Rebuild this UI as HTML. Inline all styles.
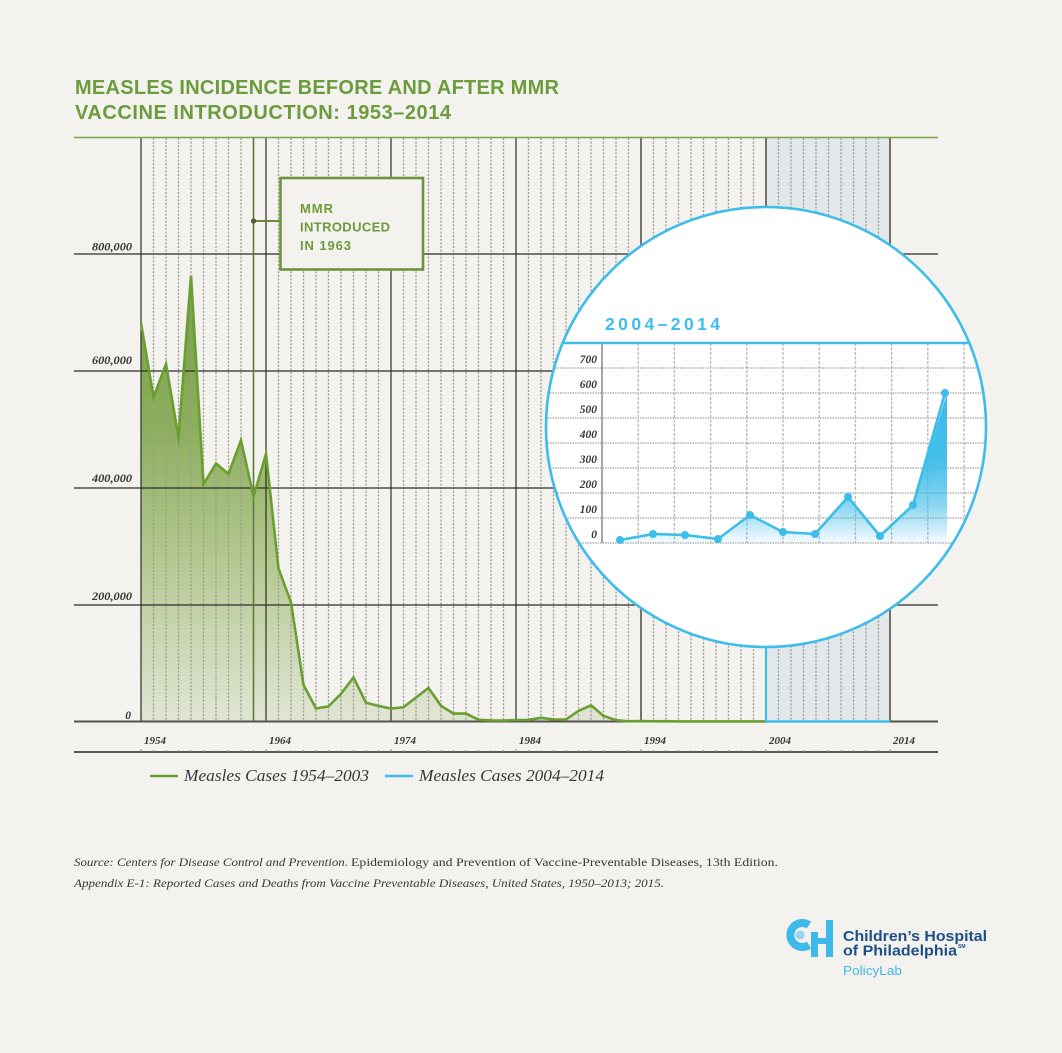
<!DOCTYPE html>
<html><head><meta charset="utf-8"><style>
html,body{margin:0;padding:0;background:#f3f2ee;}
svg{display:block;}
</style></head><body>
<svg width="1062" height="1053" viewBox="0 0 1062 1053" xmlns="http://www.w3.org/2000/svg">
<defs>
<linearGradient id="gf" gradientUnits="userSpaceOnUse" x1="0" y1="276" x2="0" y2="721">
<stop offset="0" stop-color="#72a03c"/>
<stop offset="0.35" stop-color="#8daf5e"/>
<stop offset="0.7" stop-color="#bccd9c"/>
<stop offset="1" stop-color="#e0e5d3"/>
</linearGradient>
<linearGradient id="bf" gradientUnits="userSpaceOnUse" x1="0" y1="393" x2="0" y2="543">
<stop offset="0" stop-color="#3bbbe9" stop-opacity="1"/>
<stop offset="0.45" stop-color="#3bbbe9" stop-opacity="0.95"/>
<stop offset="0.75" stop-color="#3bbbe9" stop-opacity="0.6"/>
<stop offset="1" stop-color="#3bbbe9" stop-opacity="0.05"/>
</linearGradient>
<clipPath id="cc"><circle cx="766" cy="427" r="219"/></clipPath>
</defs>
<rect width="1062" height="1053" fill="#f3f2ee"/>

<!-- Title -->
<g font-family="Liberation Sans, sans-serif" font-weight="bold" font-size="20" fill="#6b9c3c">
<text x="75" y="94" textLength="484" lengthAdjust="spacing">MEASLES INCIDENCE BEFORE AND AFTER MMR</text>
<text x="75" y="119" textLength="376" lengthAdjust="spacing">VACCINE INTRODUCTION: 1953–2014</text>
</g>

<!-- shaded 2004-2014 region -->
<rect x="766" y="138" width="124" height="583" fill="#e2e8ea"/>

<!-- green area -->
<polygon fill="url(#gf)" points="141,721.5 141,322.8 153.5,397.3 166,364.1 178.5,437.2 191,275.9 203.5,484.3 216,463.5 228.5,473.9 241,440.3 253.5,496.6 266,454.0 278.5,568.5 291,602.3 303.5,684.9 316,708.5 328.5,706.4 341,693.8 353.5,677.5 366,702.7 378.5,705.9 391,708.6 403.5,707.3 416,697.5 428.5,688.0 441,705.8 453.5,713.6 466,713.6 478.5,719.7 491,720.5 503.5,720.6 516,720.0 528.5,719.9 541,717.8 553.5,719.4 566,719.5 578.5,710.9 591,705.3 603.5,715.9 616,720.2 628.5,721.3 641,721.0 653.5,721.3 666,721.2 678.5,721.4 691,721.4 703.5,721.4 716,721.4 728.5,721.4 741,721.4 753.5,721.4 766,721.5"/>

<!-- minor dotted verticals -->
<g stroke="#9c9a96" stroke-width="1.3" stroke-dasharray="2,1.6">
<line x1="153.5" y1="138" x2="153.5" y2="721"/><line x1="166" y1="138" x2="166" y2="721"/><line x1="178.5" y1="138" x2="178.5" y2="721"/><line x1="191" y1="138" x2="191" y2="721"/><line x1="203.5" y1="138" x2="203.5" y2="721"/><line x1="216" y1="138" x2="216" y2="721"/><line x1="228.5" y1="138" x2="228.5" y2="721"/><line x1="241" y1="138" x2="241" y2="721"/>
<line x1="278.5" y1="138" x2="278.5" y2="721"/><line x1="291" y1="138" x2="291" y2="721"/><line x1="303.5" y1="138" x2="303.5" y2="721"/><line x1="316" y1="138" x2="316" y2="721"/><line x1="328.5" y1="138" x2="328.5" y2="721"/><line x1="341" y1="138" x2="341" y2="721"/><line x1="353.5" y1="138" x2="353.5" y2="721"/><line x1="366" y1="138" x2="366" y2="721"/><line x1="378.5" y1="138" x2="378.5" y2="721"/>
<line x1="403.5" y1="138" x2="403.5" y2="721"/><line x1="416" y1="138" x2="416" y2="721"/><line x1="428.5" y1="138" x2="428.5" y2="721"/><line x1="441" y1="138" x2="441" y2="721"/><line x1="453.5" y1="138" x2="453.5" y2="721"/><line x1="466" y1="138" x2="466" y2="721"/><line x1="478.5" y1="138" x2="478.5" y2="721"/><line x1="491" y1="138" x2="491" y2="721"/><line x1="503.5" y1="138" x2="503.5" y2="721"/>
<line x1="528.5" y1="138" x2="528.5" y2="721"/><line x1="541" y1="138" x2="541" y2="721"/><line x1="553.5" y1="138" x2="553.5" y2="721"/><line x1="566" y1="138" x2="566" y2="721"/><line x1="578.5" y1="138" x2="578.5" y2="721"/><line x1="591" y1="138" x2="591" y2="721"/><line x1="603.5" y1="138" x2="603.5" y2="721"/><line x1="616" y1="138" x2="616" y2="721"/><line x1="628.5" y1="138" x2="628.5" y2="721"/>
<line x1="653.5" y1="138" x2="653.5" y2="721"/><line x1="666" y1="138" x2="666" y2="721"/><line x1="678.5" y1="138" x2="678.5" y2="721"/><line x1="691" y1="138" x2="691" y2="721"/><line x1="703.5" y1="138" x2="703.5" y2="721"/><line x1="716" y1="138" x2="716" y2="721"/><line x1="728.5" y1="138" x2="728.5" y2="721"/><line x1="741" y1="138" x2="741" y2="721"/><line x1="753.5" y1="138" x2="753.5" y2="721"/>
<line x1="778.5" y1="138" x2="778.5" y2="721"/><line x1="791" y1="138" x2="791" y2="721"/><line x1="803.5" y1="138" x2="803.5" y2="721"/><line x1="816" y1="138" x2="816" y2="721"/><line x1="828.5" y1="138" x2="828.5" y2="721"/><line x1="841" y1="138" x2="841" y2="721"/><line x1="853.5" y1="138" x2="853.5" y2="721"/><line x1="866" y1="138" x2="866" y2="721"/><line x1="878.5" y1="138" x2="878.5" y2="721"/>
</g>

<!-- major verticals -->
<g stroke="#2f2d2b" stroke-width="1.2">
<line x1="141" y1="138" x2="141" y2="721"/><line x1="266" y1="138" x2="266" y2="721"/><line x1="391" y1="138" x2="391" y2="721"/><line x1="516" y1="138" x2="516" y2="721"/>
<line x1="641" y1="138" x2="641" y2="721" stroke="#55514e" stroke-width="1.6"/><line x1="766" y1="138" x2="766" y2="721" stroke="#55514e" stroke-width="1.6"/><line x1="890" y1="138" x2="890" y2="721" stroke="#55514e" stroke-width="1.6"/>
</g>

<!-- horizontal gridlines -->
<line x1="74" y1="137.5" x2="938" y2="137.5" stroke="#7ba346" stroke-width="1.5"/>
<g stroke="#2f2d2b" stroke-width="1.2">
<line x1="74" y1="254" x2="938" y2="254"/><line x1="74" y1="371" x2="938" y2="371"/><line x1="74" y1="488" x2="938" y2="488"/><line x1="74" y1="605" x2="938" y2="605"/>
</g>
<line x1="74" y1="721.5" x2="938" y2="721.5" stroke="#55504d" stroke-width="2"/>

<!-- MMR line -->
<line x1="253.5" y1="138" x2="253.5" y2="721" stroke="#5f7a3c" stroke-width="1.6"/>
<line x1="253.5" y1="221" x2="280" y2="221" stroke="#6b8a40" stroke-width="2"/>
<circle cx="253.5" cy="221" r="2.6" fill="#4d5f30"/>
<rect x="280.5" y="178" width="142.5" height="91.5" fill="#f3f2ee" stroke="#6d9340" stroke-width="2.6"/>
<g font-family="Liberation Sans, sans-serif" font-weight="bold" font-size="13" fill="#6d9a3a">
<text x="300" y="213" textLength="33" lengthAdjust="spacing">MMR</text>
<text x="300" y="231.5" textLength="90" lengthAdjust="spacing">INTRODUCED</text>
<text x="300" y="250" textLength="51" lengthAdjust="spacing">IN 1963</text>
</g>

<!-- green line -->
<polyline fill="none" stroke="#6a9e31" stroke-width="2.6" stroke-linejoin="miter" stroke-miterlimit="10" points="141,322.8 153.5,397.3 166,364.1 178.5,437.2 191,275.9 203.5,484.3 216,463.5 228.5,473.9 241,440.3 253.5,496.6 266,454.0 278.5,568.5 291,602.3 303.5,684.9 316,708.5 328.5,706.4 341,693.8 353.5,677.5 366,702.7 378.5,705.9 391,708.6 403.5,707.3 416,697.5 428.5,688.0 441,705.8 453.5,713.6 466,713.6 478.5,719.7 491,720.5 503.5,720.6 516,720.0 528.5,719.9 541,717.8 553.5,719.4 566,719.5 578.5,710.9 591,705.3 603.5,715.9 616,720.2 628.5,721.3 641,721.0 653.5,721.3 666,721.2 678.5,721.4 691,721.4 703.5,721.4 716,721.4 728.5,721.4 741,721.4 753.5,721.4 766,721.5"/>

<!-- blue segments main -->
<line x1="766" y1="640" x2="766" y2="721.5" stroke="#3dbde9" stroke-width="2.2"/>
<line x1="766" y1="721.5" x2="890" y2="721.5" stroke="#3dbde9" stroke-width="2.4"/>

<!-- y labels -->
<g font-family="Liberation Serif, serif" font-style="italic" font-weight="bold" font-size="11.5" fill="#3a3634" text-anchor="end">
<text x="132" y="250.5" textLength="40" lengthAdjust="spacingAndGlyphs">800,000</text>
<text x="132" y="364" textLength="40" lengthAdjust="spacingAndGlyphs">600,000</text>
<text x="132" y="482" textLength="40" lengthAdjust="spacingAndGlyphs">400,000</text>
<text x="132" y="600" textLength="40" lengthAdjust="spacingAndGlyphs">200,000</text>
<text x="131" y="719">0</text>
</g>

<!-- bottom axis -->
<line x1="74" y1="752" x2="938" y2="752" stroke="#5a5452" stroke-width="2"/>
<g stroke="#8a8580" stroke-width="1">
<path d="M141 749V752M153.5 750V752M166 750V752M178.5 750V752M191 750V752M203.5 750V752M216 750V752M228.5 750V752M241 750V752M253.5 750V752M266 749V752M278.5 750V752M291 750V752M303.5 750V752M316 750V752M328.5 750V752M341 750V752M353.5 750V752M366 750V752M378.5 750V752M391 749V752M403.5 750V752M416 750V752M428.5 750V752M441 750V752M453.5 750V752M466 750V752M478.5 750V752M491 750V752M503.5 750V752M516 749V752M528.5 750V752M541 750V752M553.5 750V752M566 750V752M578.5 750V752M591 750V752M603.5 750V752M616 750V752M628.5 750V752M641 749V752M653.5 750V752M666 750V752M678.5 750V752M691 750V752M703.5 750V752M716 750V752M728.5 750V752M741 750V752M753.5 750V752M766 749V752M778.5 750V752M791 750V752M803.5 750V752M816 750V752M828.5 750V752M841 750V752M853.5 750V752M866 750V752M878.5 750V752M890 749V752"/>
</g>
<g font-family="Liberation Serif, serif" font-style="italic" font-weight="bold" font-size="10.5" fill="#3a3634">
<text x="144" y="744" textLength="22" lengthAdjust="spacingAndGlyphs">1954</text>
<text x="269" y="744" textLength="22" lengthAdjust="spacingAndGlyphs">1964</text>
<text x="394" y="744" textLength="22" lengthAdjust="spacingAndGlyphs">1974</text>
<text x="519" y="744" textLength="22" lengthAdjust="spacingAndGlyphs">1984</text>
<text x="644" y="744" textLength="22" lengthAdjust="spacingAndGlyphs">1994</text>
<text x="769" y="744" textLength="22" lengthAdjust="spacingAndGlyphs">2004</text>
<text x="893" y="744" textLength="22" lengthAdjust="spacingAndGlyphs">2014</text>
</g>

<!-- legend -->
<line x1="150" y1="776" x2="178" y2="776" stroke="#6a9e31" stroke-width="2.5"/>
<line x1="385" y1="776" x2="413" y2="776" stroke="#3dbde9" stroke-width="2.5"/>
<g font-family="Liberation Serif, serif" font-style="italic" font-size="16.5" fill="#3a3634">
<text x="184" y="781" textLength="185" lengthAdjust="spacingAndGlyphs">Measles Cases 1954–2003</text>
<text x="419" y="781" textLength="185" lengthAdjust="spacingAndGlyphs">Measles Cases 2004–2014</text>
</g>

<!-- inset circle -->
<circle cx="766" cy="427" r="220" fill="#ffffff"/>
<g clip-path="url(#cc)">
<g stroke="#b3b1ae" stroke-width="1.6" stroke-dasharray="1.5,1">
<line x1="540" y1="368" x2="995" y2="368"/><line x1="540" y1="393" x2="995" y2="393"/><line x1="540" y1="418" x2="995" y2="418"/><line x1="540" y1="443" x2="995" y2="443"/><line x1="540" y1="468" x2="995" y2="468"/><line x1="540" y1="493" x2="995" y2="493"/><line x1="540" y1="518" x2="995" y2="518"/><line x1="540" y1="543" x2="995" y2="543"/>
</g>
<g stroke="#bdbbb8" stroke-width="1.4" stroke-dasharray="3,1.5">
<line x1="638.2" y1="343" x2="638.2" y2="543"/><line x1="674.4" y1="343" x2="674.4" y2="543"/><line x1="710.6" y1="343" x2="710.6" y2="543"/><line x1="746.8" y1="343" x2="746.8" y2="543"/><line x1="783" y1="343" x2="783" y2="543"/><line x1="819.2" y1="343" x2="819.2" y2="543"/><line x1="855.4" y1="343" x2="855.4" y2="543"/><line x1="891.6" y1="343" x2="891.6" y2="543"/><line x1="927.8" y1="343" x2="927.8" y2="543"/><line x1="964" y1="343" x2="964" y2="543"/>
</g>
<line x1="602" y1="343" x2="602" y2="543" stroke="#a8a6a3" stroke-width="2"/>
<line x1="540" y1="343" x2="995" y2="343" stroke="#3dbde9" stroke-width="2.4"/>
<polygon fill="url(#bf)" points="620,543 620,540 653,534 685,535 718,539 750,515 783,532 815,534 848,497 880,536 913,505 947,393 947,543"/>
<polyline fill="none" stroke="#3dbde9" stroke-width="2.6" stroke-linejoin="round" points="620,540 653,534 685,535 718,539 750,515 783,532 815,534 848,497 880,536 913,505 945,393"/>
<g fill="#3dbde9">
<circle cx="620" cy="540" r="4"/><circle cx="653" cy="534" r="4"/><circle cx="685" cy="535" r="4"/><circle cx="718" cy="539" r="4"/><circle cx="750" cy="515" r="4"/><circle cx="783" cy="532" r="4"/><circle cx="815" cy="534" r="4"/><circle cx="848" cy="497" r="4"/><circle cx="880" cy="536" r="4"/><circle cx="913" cy="505" r="4"/><circle cx="945" cy="393" r="4"/>
</g>
<g font-family="Liberation Serif, serif" font-style="italic" font-weight="bold" font-size="11.5" fill="#3a3634" text-anchor="end">
<text x="597" y="363">700</text><text x="597" y="388">600</text><text x="597" y="413">500</text><text x="597" y="438">400</text><text x="597" y="463">300</text><text x="597" y="488">200</text><text x="597" y="513">100</text><text x="597" y="538">0</text>
</g>
<text x="605" y="330" font-family="Liberation Sans, sans-serif" font-weight="bold" font-size="17.5" fill="#3dbde9" textLength="115" lengthAdjust="spacing">2004–2014</text>
</g>
<circle cx="766" cy="427" r="220" fill="none" stroke="#3dbde9" stroke-width="2.6"/>

<!-- source -->
<g font-family="Liberation Serif, serif" font-size="11.5" fill="#3a3634">
<text x="74" y="866" font-style="italic" textLength="274" lengthAdjust="spacingAndGlyphs">Source: Centers for Disease Control and Prevention.</text>
<text x="351" y="866" textLength="427" lengthAdjust="spacingAndGlyphs">Epidemiology and Prevention of Vaccine-Preventable Diseases, 13th Edition.</text>
<text x="74" y="887" font-style="italic" textLength="590" lengthAdjust="spacingAndGlyphs">Appendix E-1: Reported Cases and Deaths from Vaccine Preventable Diseases, United States, 1950–2013; 2015.</text>
</g>

<!-- logo -->
<g>
<path d="M809 925 A12 12 0 1 0 809 945" fill="none" stroke="#3fb8ea" stroke-width="8"/>
<circle cx="800" cy="935" r="4.5" fill="#3fb8ea" opacity="0.5"/>
<rect x="811" y="932" width="7" height="25" fill="#3fb8ea"/>
<rect x="826" y="920" width="7" height="37" fill="#3fb8ea"/>
<rect x="811" y="938" width="22" height="6" fill="#3fb8ea"/>
<g font-family="Liberation Sans, sans-serif" font-weight="bold" fill="#1d4f86" font-size="15">
<text x="843" y="941" textLength="144" lengthAdjust="spacingAndGlyphs">Children’s Hospital</text>
<text x="843" y="955.5" textLength="114" lengthAdjust="spacingAndGlyphs">of Philadelphia</text>
<text x="958" y="948" font-size="5">SM</text>
</g>
<text x="843" y="975" font-family="Liberation Sans, sans-serif" font-size="12.5" fill="#45b5e5" textLength="59" lengthAdjust="spacingAndGlyphs">PolicyLab</text>
</g>
</svg>
</body></html>
